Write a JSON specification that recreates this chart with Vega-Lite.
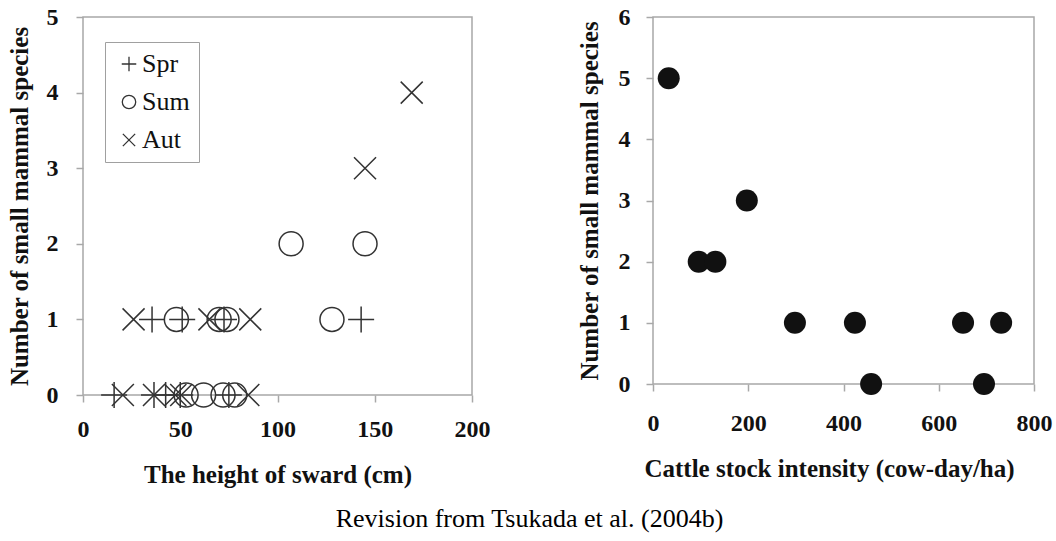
{
  "$schema": "https://vega.github.io/schema/vega-lite/v6.json",
  "background": "white",
  "padding": {"left": 6, "top": 4, "right": 5, "bottom": 5},
  "title": {"text": "Revision from Tsukada et al. (2004b)", "orient": "bottom", "anchor": "middle", "font": "Liberation Serif, Times New Roman, serif", "fontSize": 26, "fontWeight": "normal", "color": "#000", "offset": 18},
  "spacing": 85,
  "datasets": {
    "sward": [
      {"h": 169, "n": 4, "season": "Aut"},
      {"h": 145, "n": 3, "season": "Aut"},
      {"h": 107, "n": 2, "season": "Sum"},
      {"h": 145, "n": 2, "season": "Sum"},
      {"h": 26, "n": 1, "season": "Aut"},
      {"h": 65, "n": 1, "season": "Aut"},
      {"h": 86, "n": 1, "season": "Aut"},
      {"h": 35.5, "n": 1, "season": "Spr"},
      {"h": 51, "n": 1, "season": "Spr"},
      {"h": 72.5, "n": 1, "season": "Spr"},
      {"h": 143, "n": 1, "season": "Spr"},
      {"h": 48, "n": 1, "season": "Sum"},
      {"h": 70, "n": 1, "season": "Sum"},
      {"h": 74, "n": 1, "season": "Sum"},
      {"h": 128, "n": 1, "season": "Sum"},
      {"h": 16, "n": 0, "season": "Spr"},
      {"h": 36.5, "n": 0, "season": "Spr"},
      {"h": 42.5, "n": 0, "season": "Spr"},
      {"h": 50, "n": 0, "season": "Spr"},
      {"h": 75, "n": 0, "season": "Spr"},
      {"h": 20.5, "n": 0, "season": "Aut"},
      {"h": 36.5, "n": 0, "season": "Aut"},
      {"h": 47.5, "n": 0, "season": "Aut"},
      {"h": 50.5, "n": 0, "season": "Aut"},
      {"h": 85, "n": 0, "season": "Aut"},
      {"h": 53, "n": 0, "season": "Sum"},
      {"h": 62, "n": 0, "season": "Sum"},
      {"h": 72, "n": 0, "season": "Sum"},
      {"h": 78, "n": 0, "season": "Sum"}
    ],
    "cattle": [
      {"c": 33, "n": 5},
      {"c": 96, "n": 2},
      {"c": 131, "n": 2},
      {"c": 197, "n": 3},
      {"c": 298, "n": 1},
      {"c": 424, "n": 1},
      {"c": 458, "n": 0},
      {"c": 651, "n": 1},
      {"c": 695, "n": 0},
      {"c": 731, "n": 1}
    ]
  },
  "config": {
    "view": {"stroke": "#a8a8a8", "strokeWidth": 1.5},
    "axis": {
      "domain": false,
      "grid": false,
      "tickColor": "#a8a8a8",
      "tickWidth": 1.5,
      "tickSize": 7,
      "labelFont": "Liberation Serif, Times New Roman, serif",
      "labelFontSize": 24,
      "labelFontWeight": "bold",
      "labelColor": "#111",
      "labelFlush": false,
      "labelOverlap": false,
      "titleFont": "Liberation Serif, Times New Roman, serif",
      "titleFontSize": 25,
      "titleFontWeight": "bold",
      "titleColor": "#111"
    },
    "legend": {"labelFont": "Liberation Serif, Times New Roman, serif"}
  },
  "hconcat": [
    {
      "width": 389,
      "height": 378,
      "data": {"name": "sward"},
      "mark": {"type": "point", "filled": false, "strokeWidth": 1.5, "opacity": 1, "size": 576},
      "encoding": {
        "x": {"field": "h", "type": "quantitative", "scale": {"domain": [0, 200], "nice": false},
          "axis": {"values": [0, 50, 100, 150, 200], "title": "The height of sward (cm)", "labelPadding": 15, "titlePadding": 21}},
        "y": {"field": "n", "type": "quantitative", "scale": {"domain": [0, 5], "nice": false},
          "axis": {"values": [0, 1, 2, 3, 4, 5], "title": "Number of small mammal species", "labelPadding": 18, "titlePadding": 14}},
        "shape": {"field": "season", "type": "nominal",
          "scale": {"domain": ["Spr", "Sum", "Aut"], "range": ["M-1.083,0L1.083,0M0,-1.083L0,1.083", "circle", "M-0.917,-0.917L0.917,0.917M-0.917,0.917L0.917,-0.917"]},
          "legend": {"title": null, "orient": "none", "legendX": 22, "legendY": 25, "strokeColor": "#a0a0a0", "padding": 9, "symbolOffset": 2, "rowPadding": 12, "labelOffset": 0, "labelFont": "Liberation Serif, Times New Roman, serif", "labelFontSize": 26, "labelFontWeight": "normal", "labelColor": "#111", "symbolSize": 180, "symbolStrokeWidth": 1.3, "symbolStrokeColor": "#333"}},
        "color": {"value": "#333"}
      }
    },
    {
      "width": 381,
      "height": 367,
      "data": {"name": "cattle"},
      "mark": {"type": "point", "filled": true, "opacity": 1, "size": 484, "color": "#111"},
      "encoding": {
        "x": {"field": "c", "type": "quantitative", "scale": {"domain": [0, 800], "nice": false},
          "axis": {"values": [0, 200, 400, 600, 800], "title": "Cattle stock intensity (cow-day/ha)", "labelPadding": 20, "titlePadding": 21, "titleX": 176}},
        "y": {"field": "n", "type": "quantitative", "scale": {"domain": [0, 6], "nice": false},
          "axis": {"values": [0, 1, 2, 3, 4, 5, 6], "title": "Number of small mammal species", "labelPadding": 16, "titlePadding": 16}}
      }
    }
  ]
}
